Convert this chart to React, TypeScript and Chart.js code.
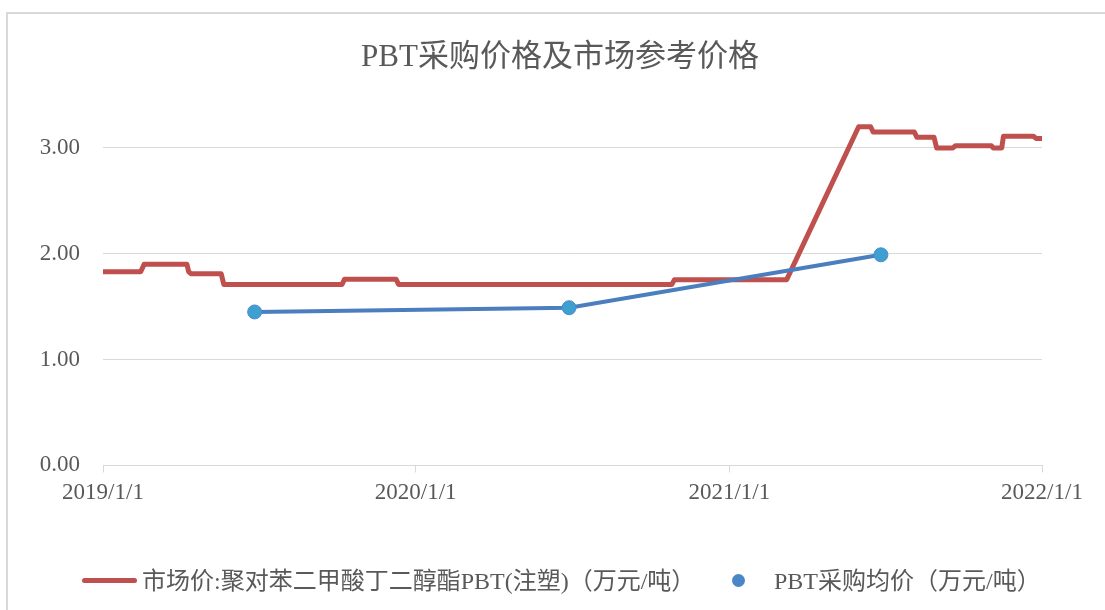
import React, { useEffect, useRef } from "react";
import { Chart, registerables } from "chart.js";

Chart.register(...registerables);

const TITLE = "PBT采购价格及市场参考价格";
const SERIES_MARKET = "市场价:聚对苯二甲酸丁二醇酯PBT(注塑)（万元/吨）";
const SERIES_PURCHASE = "PBT采购均价（万元/吨）";

const marketDates = [
  "2019-01-01", "2019-02-14", "2019-02-18", "2019-04-09", "2019-04-11", "2019-04-14",
  "2019-05-19", "2019-05-22", "2019-10-07", "2019-10-10", "2019-12-09", "2019-12-12",
  "2020-10-26", "2020-10-29", "2021-03-09", "2021-06-01", "2021-06-15", "2021-06-18",
  "2021-08-05", "2021-08-08", "2021-08-28", "2021-08-31", "2021-09-19", "2021-09-22",
  "2021-11-03", "2021-11-05", "2021-11-15", "2021-11-17", "2021-12-22", "2021-12-25",
  "2022-01-01",
];
const marketValues = [
  1.83, 1.83, 1.9, 1.9, 1.83, 1.81,
  1.81, 1.71, 1.71, 1.76, 1.76, 1.71,
  1.71, 1.755, 1.755, 3.2, 3.2, 3.15,
  3.15, 3.1, 3.1, 3.0, 3.0, 3.02,
  3.02, 3.0, 3.0, 3.11, 3.11, 3.09,
  3.09,
];

const purchaseDates = ["2019-06-27", "2020-06-28", "2021-06-27"];
const purchaseValues = [1.45, 1.49, 1.99];

const xTickDates = ["2019-01-01", "2020-01-01", "2021-01-01", "2022-01-01"];
const xTickLabels = ["2019/1/1", "2020/1/1", "2021/1/1", "2022/1/1"];
const yTicks = [0, 1, 2, 3];
const Y_MAX = 3.5;

const BASE = Date.parse("2019-01-01T00:00:00Z");
const toDay = (d: string) => (Date.parse(d + "T00:00:00Z") - BASE) / 86400000;

const FONT = "'Liberation Serif', 'Times New Roman', 'Noto Sans CJK SC', serif";
const TEXT = "#595959";
const GRID = "#d9d9d9";
const RED = "#c0504d";
const BLUE = "#4a7ebf";
const MARKER = "#3e9fd1";

export default function App() {
  const ref = useRef<HTMLCanvasElement | null>(null);

  useEffect(() => {
    if (!ref.current) return;
    const xTicks = xTickDates.map(toDay);
    const chart = new Chart(ref.current, {
      type: "line",
      data: {
        datasets: [
          {
            label: SERIES_MARKET,
            data: marketDates.map((d, i) => ({ x: toDay(d), y: marketValues[i] })),
            borderColor: RED,
            backgroundColor: RED,
            borderWidth: 5,
            pointRadius: 0,
            tension: 0,
            borderJoinStyle: "round",
            borderCapStyle: "round",
            order: 2,
          },
          {
            label: SERIES_PURCHASE,
            data: purchaseDates.map((d, i) => ({ x: toDay(d), y: purchaseValues[i] })),
            borderColor: BLUE,
            backgroundColor: MARKER,
            pointBackgroundColor: MARKER,
            pointBorderColor: "#4a8ccc",
            pointBorderWidth: 1,
            borderWidth: 4,
            pointRadius: 7,
            tension: 0,
            order: 1,
          },
        ],
      },
      options: {
        animation: false,
        responsive: false,
        maintainAspectRatio: false,
        layout: { padding: { left: 39, right: 63, top: 95, bottom: 96 } },
        plugins: {
          legend: { display: false },
          tooltip: { enabled: false },
          title: { display: false },
        },
        scales: {
          x: {
            type: "linear",
            min: xTicks[0],
            max: xTicks[xTicks.length - 1],
            afterBuildTicks: (axis: any) => {
              axis.ticks = xTicks.map((v) => ({ value: v }));
            },
            grid: {
              drawOnChartArea: false,
              drawTicks: true,
              tickLength: 7,
              color: GRID,
              lineWidth: 1,
            },
            border: { display: true, color: GRID, width: 1 },
            ticks: {
              color: TEXT,
              font: { family: FONT, size: 23 },
              padding: 7,
              maxRotation: 0,
              autoSkip: false,
              callback: (v: any) => {
                const i = xTicks.indexOf(Number(v));
                return i >= 0 ? xTickLabels[i] : "";
              },
            },
          },
          y: {
            min: 0,
            max: Y_MAX,
            afterBuildTicks: (axis: any) => {
              axis.ticks = yTicks.map((v) => ({ value: v }));
            },
            afterFit: (axis: any) => {
              axis.width = 64;
            },
            grid: { color: GRID, drawTicks: false, lineWidth: 1 },
            border: { display: false },
            ticks: {
              color: TEXT,
              font: { family: FONT, size: 23 },
              padding: 23,
              callback: (v: any) => Number(v).toFixed(2),
            },
          },
        },
      },
    });
    return () => chart.destroy();
  }, []);

  return (
    <div
      style={{
        position: "fixed",
        left: 0,
        top: 0,
        width: 1105,
        height: 610,
        background: "#fff",
        overflow: "hidden",
        fontFamily: FONT,
      }}
    >
      <div
        style={{
          position: "absolute",
          left: 6,
          top: 12,
          width: 1200,
          height: 700,
          borderLeft: `2px solid ${GRID}`,
          borderTop: `2px solid ${GRID}`,
        }}
      />
      <canvas
        ref={ref}
        width={1105}
        height={610}
        style={{ position: "absolute", left: 0, top: 0, width: 1105, height: 610 }}
      />
      <div
        style={{
          position: "absolute",
          left: 360,
          width: 400,
          top: 36,
          height: 40,
          lineHeight: "40px",
          textAlign: "center",
          color: TEXT,
          fontSize: 31,
          whiteSpace: "nowrap",
        }}
      >
        {TITLE}
      </div>
      <div
        style={{
          position: "absolute",
          left: 0,
          top: 566,
          width: 1105,
          height: 30,
          color: TEXT,
          fontSize: 24,
          lineHeight: "30px",
          whiteSpace: "nowrap",
        }}
      >
        <span
          style={{
            position: "absolute",
            left: 82,
            top: 12,
            width: 55,
            height: 5,
            borderRadius: 3,
            background: RED,
          }}
        />
        <span style={{ position: "absolute", left: 142, top: 0 }}>{SERIES_MARKET}</span>
        <span
          style={{
            position: "absolute",
            left: 732,
            top: 8,
            width: 13,
            height: 13,
            borderRadius: "50%",
            background: "#4a86c8",
          }}
        />
        <span style={{ position: "absolute", left: 774, top: 0 }}>{SERIES_PURCHASE}</span>
      </div>
    </div>
  );
}
